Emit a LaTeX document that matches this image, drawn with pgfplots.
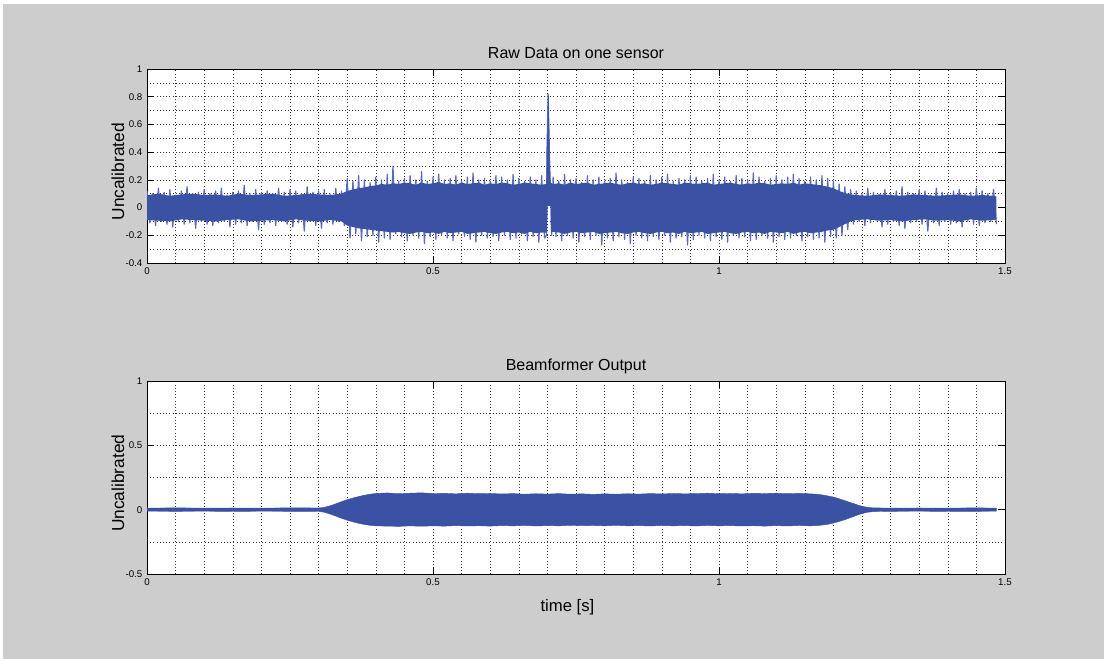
\documentclass[border=0pt]{standalone}
\usepackage{fontspec}
\setmainfont{Liberation Sans}
\usepackage{pgfplots}
\pgfplotsset{compat=1.18}
\usepackage{pgfplotstable}

\definecolor{figgray}{RGB}{205,205,205}
\definecolor{sigblue}{RGB}{59,82,164}
\definecolor{spikeblue}{RGB}{88,108,184}

% raw sensor trace: alternating peaks of the noise band
\pgfplotstableread{
t y
0.000 0.12
0.005 -0.11
0.010 0.10
0.015 -0.13
0.020 0.14
0.025 -0.10
0.030 0.11
0.035 -0.12
0.040 0.13
0.045 -0.14
0.050 0.09
0.055 -0.10
0.060 0.12
0.065 -0.12
0.070 0.15
0.075 -0.11
0.080 0.10
0.085 -0.15
0.090 0.11
0.095 -0.10
0.100 0.13
0.105 -0.12
0.110 0.10
0.115 -0.13
0.120 0.12
0.125 -0.11
0.130 0.14
0.135 -0.10
0.140 0.09
0.145 -0.14
0.150 0.11
0.155 -0.12
0.160 0.12
0.165 -0.11
0.170 0.16
0.175 -0.13
0.180 0.10
0.185 -0.10
0.190 0.13
0.195 -0.16
0.200 0.11
0.205 -0.12
0.210 0.12
0.215 -0.11
0.220 0.10
0.225 -0.13
0.230 0.14
0.235 -0.10
0.240 0.11
0.245 -0.12
0.250 0.13
0.255 -0.14
0.260 0.12
0.265 -0.11
0.270 0.10
0.275 -0.17
0.280 0.15
0.285 -0.10
0.290 0.11
0.295 -0.13
0.300 0.12
0.305 -0.15
0.310 0.13
0.315 -0.11
0.320 0.10
0.325 -0.12
0.330 0.14
0.335 -0.10
0.340 0.12
0.345 -0.13
0.350 0.21
0.355 -0.22
0.360 0.19
0.365 -0.19
0.370 0.23
0.375 -0.24
0.380 0.20
0.385 -0.21
0.390 0.18
0.395 -0.20
0.400 0.22
0.405 -0.25
0.410 0.20
0.415 -0.22
0.420 0.24
0.425 -0.23
0.430 0.30
0.435 -0.19
0.440 0.19
0.445 -0.21
0.450 0.21
0.455 -0.24
0.460 0.23
0.465 -0.20
0.470 0.20
0.475 -0.22
0.480 0.26
0.485 -0.26
0.490 0.19
0.495 -0.21
0.500 0.22
0.505 -0.23
0.510 0.24
0.515 -0.20
0.520 0.20
0.525 -0.22
0.530 0.21
0.535 -0.24
0.540 0.23
0.545 -0.19
0.550 0.19
0.555 -0.21
0.560 0.22
0.565 -0.23
0.570 0.25
0.575 -0.25
0.580 0.20
0.585 -0.20
0.590 0.21
0.595 -0.22
0.600 0.19
0.605 -0.21
0.610 0.23
0.615 -0.24
0.620 0.22
0.625 -0.20
0.630 0.20
0.635 -0.23
0.640 0.24
0.645 -0.22
0.650 0.21
0.655 -0.19
0.660 0.19
0.665 -0.24
0.670 0.22
0.675 -0.21
0.680 0.20
0.685 -0.25
0.690 0.23
0.695 -0.22
0.6985 -0.20
0.6993 0.40
0.7012 0.82
0.7030 0.50
0.7050 0.15
0.7060 0.16
0.7075 -0.20
0.710 0.22
0.715 -0.21
0.720 0.19
0.725 -0.24
0.730 0.24
0.735 -0.20
0.740 0.20
0.745 -0.22
0.750 0.21
0.755 -0.25
0.760 0.18
0.765 -0.21
0.770 0.23
0.775 -0.23
0.780 0.20
0.785 -0.20
0.790 0.22
0.795 -0.27
0.800 0.19
0.805 -0.22
0.810 0.21
0.815 -0.24
0.820 0.25
0.825 -0.21
0.830 0.20
0.835 -0.23
0.840 0.18
0.845 -0.26
0.850 0.22
0.855 -0.20
0.860 0.21
0.865 -0.22
0.870 0.19
0.875 -0.24
0.880 0.23
0.885 -0.21
0.890 0.20
0.895 -0.23
0.900 0.22
0.905 -0.20
0.910 0.24
0.915 -0.25
0.920 0.19
0.925 -0.22
0.930 0.21
0.935 -0.21
0.940 0.20
0.945 -0.27
0.950 0.23
0.955 -0.23
0.960 0.22
0.965 -0.20
0.970 0.19
0.975 -0.22
0.980 0.21
0.985 -0.24
0.990 0.24
0.995 -0.21
1.000 0.20
1.005 -0.23
1.010 0.22
1.015 -0.25
1.020 0.19
1.025 -0.20
1.030 0.23
1.035 -0.22
1.040 0.21
1.045 -0.21
1.050 0.20
1.055 -0.24
1.060 0.25
1.065 -0.23
1.070 0.22
1.075 -0.20
1.080 0.19
1.085 -0.22
1.090 0.21
1.095 -0.25
1.100 0.23
1.105 -0.21
1.110 0.20
1.115 -0.23
1.120 0.22
1.125 -0.22
1.130 0.24
1.135 -0.20
1.140 0.21
1.145 -0.24
1.150 0.19
1.155 -0.21
1.160 0.22
1.165 -0.23
1.170 0.20
1.175 -0.22
1.180 0.23
1.185 -0.25
1.190 0.21
1.195 -0.21
1.200 0.19
1.205 -0.22
1.210 0.17
1.215 -0.20
1.220 0.15
1.225 -0.16
1.230 0.13
1.235 -0.12
1.240 0.12
1.245 -0.10
1.250 0.10
1.255 -0.13
1.260 0.14
1.265 -0.11
1.270 0.11
1.275 -0.09
1.280 0.09
1.285 -0.14
1.290 0.13
1.295 -0.12
1.300 0.10
1.305 -0.10
1.310 0.12
1.315 -0.13
1.320 0.15
1.325 -0.15
1.330 0.11
1.335 -0.11
1.340 0.10
1.345 -0.10
1.350 0.13
1.355 -0.12
1.360 0.12
1.365 -0.17
1.370 0.09
1.375 -0.11
1.380 0.14
1.385 -0.13
1.390 0.11
1.395 -0.10
1.400 0.10
1.405 -0.12
1.410 0.12
1.415 -0.11
1.420 0.13
1.425 -0.14
1.430 0.10
1.435 -0.10
1.440 0.11
1.445 -0.12
1.450 0.14
1.455 -0.13
1.460 0.12
1.465 -0.11
1.470 0.10
1.475 -0.10
1.480 0.13
1.485 -0.12
}\rawzig

% raw sensor trace: dense core of the band with the pulse (upper edge, then lower edge back)
\pgfplotstableread{
t y
0.00 0.090
0.02 0.100
0.04 0.085
0.06 0.095
0.08 0.100
0.10 0.090
0.12 0.095
0.14 0.085
0.16 0.100
0.18 0.090
0.20 0.095
0.22 0.100
0.24 0.085
0.26 0.090
0.28 0.100
0.30 0.095
0.32 0.090
0.34 0.100
0.345 0.110
0.35 0.120
0.36 0.130
0.37 0.140
0.38 0.145
0.39 0.155
0.40 0.160
0.41 0.170
0.42 0.165
0.43 0.175
0.44 0.170
0.45 0.180
0.46 0.175
0.47 0.165
0.48 0.180
0.49 0.170
0.50 0.175
0.51 0.185
0.52 0.170
0.53 0.175
0.54 0.165
0.55 0.180
0.56 0.170
0.57 0.175
0.58 0.180
0.59 0.165
0.60 0.175
0.61 0.170
0.62 0.180
0.63 0.175
0.64 0.165
0.65 0.170
0.66 0.180
0.67 0.175
0.68 0.170
0.69 0.165
0.698 0.170
0.6990 0.45
0.6995 0.52
0.7005 0.56
0.7012 0.82
0.7022 0.80
0.7030 0.55
0.7040 0.30
0.7055 0.18
0.71 0.170
0.72 0.175
0.73 0.165
0.74 0.180
0.75 0.170
0.76 0.175
0.77 0.180
0.78 0.165
0.79 0.170
0.80 0.175
0.81 0.180
0.82 0.170
0.83 0.165
0.84 0.175
0.85 0.180
0.86 0.170
0.87 0.175
0.88 0.165
0.89 0.170
0.90 0.180
0.91 0.175
0.92 0.170
0.93 0.165
0.94 0.180
0.95 0.175
0.96 0.170
0.97 0.175
0.98 0.180
0.99 0.165
1.00 0.170
1.01 0.175
1.02 0.180
1.03 0.170
1.04 0.165
1.05 0.175
1.06 0.170
1.07 0.180
1.08 0.175
1.09 0.165
1.10 0.170
1.11 0.175
1.12 0.170
1.13 0.180
1.14 0.165
1.15 0.175
1.16 0.170
1.17 0.165
1.18 0.160
1.19 0.150
1.20 0.140
1.21 0.120
1.22 0.105
1.23 0.095
1.24 0.090
1.26 0.085
1.28 0.095
1.30 0.090
1.32 0.085
1.34 0.095
1.36 0.090
1.38 0.085
1.40 0.090
1.42 0.095
1.44 0.085
1.46 0.090
1.48 0.085
1.485 0.080
1.485 -0.085
1.48 -0.090
1.46 -0.095
1.44 -0.085
1.42 -0.100
1.40 -0.090
1.38 -0.095
1.36 -0.085
1.34 -0.090
1.32 -0.100
1.30 -0.090
1.28 -0.095
1.26 -0.085
1.24 -0.090
1.23 -0.100
1.22 -0.120
1.21 -0.140
1.20 -0.160
1.19 -0.165
1.18 -0.175
1.17 -0.180
1.16 -0.185
1.15 -0.175
1.14 -0.180
1.13 -0.190
1.12 -0.175
1.11 -0.185
1.10 -0.180
1.09 -0.175
1.08 -0.190
1.07 -0.180
1.06 -0.185
1.05 -0.175
1.04 -0.180
1.03 -0.190
1.02 -0.185
1.01 -0.175
1.00 -0.180
0.99 -0.185
0.98 -0.190
0.97 -0.175
0.96 -0.180
0.95 -0.185
0.94 -0.175
0.93 -0.190
0.92 -0.180
0.91 -0.185
0.90 -0.175
0.89 -0.180
0.88 -0.190
0.87 -0.185
0.86 -0.175
0.85 -0.180
0.84 -0.190
0.83 -0.185
0.82 -0.175
0.81 -0.180
0.80 -0.185
0.79 -0.190
0.78 -0.175
0.77 -0.180
0.76 -0.185
0.75 -0.175
0.74 -0.180
0.73 -0.190
0.72 -0.180
0.71 -0.175
0.706 -0.180
0.7055 0.010
0.7000 0.010
0.6995 -0.180
0.69 -0.180
0.68 -0.185
0.67 -0.175
0.66 -0.190
0.65 -0.180
0.64 -0.185
0.63 -0.175
0.62 -0.180
0.61 -0.190
0.60 -0.185
0.59 -0.175
0.58 -0.180
0.57 -0.185
0.56 -0.190
0.55 -0.175
0.54 -0.180
0.53 -0.185
0.52 -0.175
0.51 -0.190
0.50 -0.180
0.49 -0.185
0.48 -0.175
0.47 -0.180
0.46 -0.190
0.45 -0.185
0.44 -0.175
0.43 -0.180
0.42 -0.175
0.41 -0.170
0.40 -0.165
0.39 -0.160
0.38 -0.155
0.37 -0.150
0.36 -0.140
0.35 -0.130
0.345 -0.115
0.34 -0.100
0.32 -0.090
0.30 -0.100
0.28 -0.095
0.26 -0.085
0.24 -0.100
0.22 -0.090
0.20 -0.095
0.18 -0.100
0.16 -0.085
0.14 -0.090
0.12 -0.100
0.10 -0.095
0.08 -0.090
0.06 -0.085
0.04 -0.100
0.02 -0.095
0.00 -0.090
}\rawcore

% beamformer output envelope (upper edge, then lower edge back)
\pgfplotstableread{
t y
0.000 0.012
0.050 0.014
0.100 0.012
0.150 0.013
0.200 0.012
0.250 0.014
0.300 0.013
0.310 0.018
0.320 0.030
0.330 0.045
0.340 0.062
0.350 0.078
0.360 0.090
0.370 0.102
0.380 0.112
0.390 0.120
0.400 0.126
0.420 0.130
0.440 0.124
0.460 0.128
0.480 0.131
0.500 0.125
0.520 0.127
0.540 0.123
0.560 0.128
0.580 0.124
0.600 0.126
0.620 0.122
0.640 0.125
0.660 0.120
0.680 0.124
0.700 0.121
0.720 0.125
0.740 0.120
0.760 0.123
0.780 0.119
0.800 0.123
0.820 0.120
0.840 0.124
0.860 0.121
0.880 0.125
0.900 0.122
0.920 0.126
0.940 0.123
0.960 0.125
0.980 0.128
1.000 0.124
1.020 0.126
1.040 0.123
1.060 0.127
1.080 0.125
1.100 0.128
1.120 0.124
1.140 0.127
1.160 0.123
1.170 0.120
1.180 0.115
1.190 0.107
1.200 0.098
1.210 0.085
1.220 0.070
1.230 0.055
1.240 0.040
1.250 0.026
1.260 0.018
1.270 0.014
1.300 0.012
1.350 0.013
1.400 0.012
1.450 0.014
1.485 0.012
1.485 -0.012
1.450 -0.013
1.400 -0.014
1.350 -0.012
1.300 -0.013
1.270 -0.015
1.260 -0.020
1.250 -0.030
1.240 -0.045
1.230 -0.062
1.220 -0.078
1.210 -0.092
1.200 -0.104
1.190 -0.114
1.180 -0.120
1.170 -0.124
1.160 -0.126
1.140 -0.123
1.120 -0.127
1.100 -0.124
1.080 -0.128
1.060 -0.125
1.040 -0.127
1.020 -0.124
1.000 -0.126
0.980 -0.123
0.960 -0.127
0.940 -0.124
0.920 -0.126
0.900 -0.123
0.880 -0.127
0.860 -0.124
0.840 -0.126
0.820 -0.122
0.800 -0.126
0.780 -0.123
0.760 -0.125
0.740 -0.122
0.720 -0.126
0.700 -0.124
0.680 -0.127
0.660 -0.123
0.640 -0.126
0.620 -0.124
0.600 -0.128
0.580 -0.125
0.560 -0.127
0.540 -0.124
0.520 -0.128
0.500 -0.126
0.480 -0.129
0.460 -0.126
0.440 -0.130
0.420 -0.128
0.400 -0.126
0.390 -0.122
0.380 -0.115
0.370 -0.106
0.360 -0.095
0.350 -0.082
0.340 -0.067
0.330 -0.050
0.320 -0.034
0.310 -0.020
0.300 -0.014
0.250 -0.013
0.200 -0.012
0.150 -0.014
0.100 -0.012
0.050 -0.013
0.000 -0.012
}\beamenv

\pgfplotsset{
  every axis title shift=0pt,
  matlab/.style={
    scale only axis,
    anchor=south west,
    width=643.5pt,
    xmin=0, xmax=1.5,
    xtick={0,0.5,1,1.5},
    xticklabels={0,0.5,1,1.5},
    minor xtick={0.05,0.1,0.15,0.2,0.25,0.3,0.35,0.4,0.45,0.55,0.6,0.65,0.7,0.75,0.8,0.85,0.9,0.95,1.05,1.1,1.15,1.2,1.25,1.3,1.35,1.4,1.45},
    grid=both,
    major grid style={dotted, black!80, line width=0.45pt},
    minor grid style={dotted, black!80, line width=0.45pt},
    major tick length=5.25pt,
    minor tick length=0pt,
    tick style={black, line width=0.5pt},
    axis line style={black, line width=0.6pt},
    axis background/.style={fill=white},
    tick label style={font=\fontsize{7.3}{8}\selectfont},
    title style={font=\fontsize{12}{14}\selectfont, anchor=base},
    ylabel style={font=\fontsize{13}{15}\selectfont, anchor=center},
    xlabel style={font=\fontsize{12.5}{14}\selectfont, anchor=base},
    ylabel={Uncalibrated},
    clip=true,
  }
}

\begin{document}
\begin{tikzpicture}
\useasboundingbox (0,0) rectangle (828pt,494.25pt);
\fill[white] (0,0) rectangle (828pt,494.25pt);
\fill[figgray] (2.25pt,0) rectangle (828pt,491pt);

\begin{axis}[matlab,
  at={(110.25pt,297pt)},
  height=145.5pt,
  ymin=-0.4, ymax=1,
  ytick={-0.4,-0.2,0,0.2,0.4,0.6,0.8,1},
  yticklabels={-0.4,-0.2,0,0.2,0.4,0.6,0.8,1},
  minor ytick={-0.3,-0.1,0.1,0.3,0.5,0.7,0.9},
  title={Raw Data on one sensor},
  title style={at={(axis description cs:0.5,1)}, yshift=7.5pt},
  ylabel style={at={(axis description cs:-0.034,0.47)}},
]
\addplot[spikeblue, line width=0.9pt, line join=round, no markers] table {\rawzig};
\addplot[draw=none, fill=sigblue, no markers] table {\rawcore};
\end{axis}

\begin{axis}[matlab,
  at={(110.25pt,63.75pt)},
  height=144.75pt,
  ymin=-0.5, ymax=1,
  ytick={-0.5,0,0.5,1},
  yticklabels={-0.5,0,0.5,1},
  minor ytick={-0.25,0.25,0.75},
  title={Beamformer Output},
  title style={at={(axis description cs:0.5,1)}, yshift=8pt},
  ylabel style={at={(axis description cs:-0.034,0.47)}},
  xlabel={time [s]},
  xlabel style={at={(axis description cs:0.49,0)}, yshift=-28.5pt},
]
\addplot[sigblue, fill=sigblue, line width=0.3pt, no markers] table {\beamenv};
\end{axis}
\end{tikzpicture}
\end{document}
